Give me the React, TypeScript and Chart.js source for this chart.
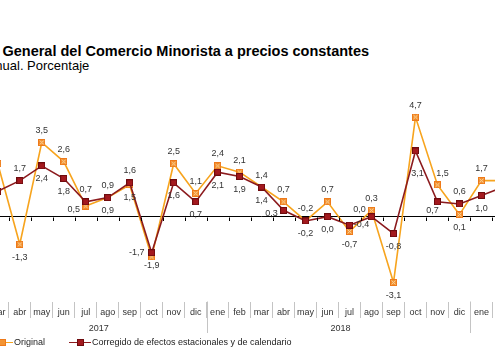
import React, { useEffect, useRef } from 'react';
import { Chart, registerables } from 'chart.js';

Chart.register(...registerables);

// ---- data (mar 2017 – mar 2019; last month is outside the cropped view) ----
const months = ['mar', 'abr', 'may', 'jun', 'jul', 'ago', 'sep', 'oct', 'nov', 'dic',
  'ene', 'feb', 'mar', 'abr', 'may', 'jun', 'jul', 'ago', 'sep', 'oct', 'nov', 'dic',
  'ene', 'feb', 'mar'];
const original = [2.5, -1.3, 3.5, 2.6, 0.5, 0.9, 1.5, -1.9, 2.5, 1.1,
  2.4, 2.1, 1.4, 0.7, -0.2, 0.7, -0.7, 0.3, -3.1, 4.7, 1.5, 0.1,
  1.7, 1.7, null];
const corrected = [1.2, 1.7, 2.4, 1.8, 0.7, 0.9, 1.6, -1.7, 1.6, 0.7,
  2.1, 1.9, 1.4, 0.3, -0.2, 0.0, -0.4, 0.0, -0.8, 3.1, 0.7, 0.6,
  1.0, 1.4, null];
const yearLabels = ['2017', '2018', '2019'];
const yearMonthCounts = [10, 12, 3];

const titleText = 'Índice General del Comercio Minorista a precios constantes';
const subtitleText = 'Tasa anual. Porcentaje';
const seriesNames = ['Original', 'Corregido de efectos estacionales y de calendario'];

// ---- label placement (style) ----
const originalLabelPos = ['l', 'b', 'a', 'a', 'lb', 'b', 'b', 'bs', 'a', 'a', 'a', 'a', 'a', 'a', 'a', 'a', 'b', 'a', 'b', 'a', 'ra', 'b', 'a', 'a', 'a'];
const correctedLabelPos = ['l', 'a', 'b', 'b', 'a', 'a', 'a', 'l', 'b', 'b', 'b', 'b', 'b', 'lb', 'b', 'b', 'r', 'la', 'b', 'bb', 'bl', 'a', 'b', 'b', 'b'];
const OFFSETS: Record<string, [number, number]> = {
  a: [0, -12], b: [0, 13], bs: [0, 9], bb: [2, 23], l: [-15, 0], lb: [-12, 3],
  la: [-12, -7], r: [12, -1], ra: [5, -11], bl: [-5, 9],
};

const FONT = '"Liberation Sans", Arial, sans-serif';
const ORANGE_LINE = '#F7A41E';
const RED_LINE = '#8C1B1E';
const TEXT = '#333333';
const SEP = '#C4C4C4';

function makeMarker(fill: string, stroke: string, cross: string | null) {
  const c = document.createElement('canvas');
  c.width = 7; c.height = 7;
  const g = c.getContext('2d')!;
  g.fillStyle = fill;
  g.fillRect(0, 0, 7, 7);
  g.strokeStyle = stroke;
  g.lineWidth = 1;
  g.strokeRect(0.5, 0.5, 6, 6);
  if (cross) {
    g.strokeStyle = cross;
    g.beginPath();
    g.moveTo(1.5, 1.5); g.lineTo(5.5, 5.5);
    g.moveTo(5.5, 1.5); g.lineTo(1.5, 5.5);
    g.stroke();
  }
  return c;
}

const fmt = (v: number) => v.toFixed(1).replace('.', ',');

const axisDecor = {
  id: 'axisDecor',
  afterDraw(chart: any) {
    const x = chart.scales.x;
    const y = chart.scales.y;
    const ctx = chart.ctx;
    const area = chart.chartArea;
    const bound = (i: number) => x.getPixelForValue(i - 0.5);
    const y0 = Math.round(y.getPixelForValue(0)) + 0.5;
    ctx.save();
    // small ticks on zero line
    ctx.strokeStyle = '#000';
    ctx.lineWidth = 1;
    for (let i = 0; i <= months.length; i++) {
      const bx = Math.round(bound(i)) + 0.5;
      ctx.beginPath();
      ctx.moveTo(bx, y0);
      ctx.lineTo(bx, y0 + 3.5);
      ctx.stroke();
    }
    // year dividers + labels
    ctx.strokeStyle = SEP;
    ctx.fillStyle = TEXT;
    ctx.font = `9px ${FONT}`;
    ctx.textAlign = 'center';
    ctx.textBaseline = 'middle';
    let start = 0;
    yearLabels.forEach((yl, k) => {
      const end = start + yearMonthCounts[k];
      const bx = Math.round(bound(end)) + 0.5;
      if (k < yearLabels.length - 1) {
        ctx.beginPath();
        ctx.moveTo(bx, area.bottom);
        ctx.lineTo(bx, area.bottom + 31.5);
        ctx.stroke();
      }
      const cx = (bound(start) + bound(end)) / 2 + 2;
      ctx.fillText(yl, cx, area.bottom + 27.5);
      start = end;
    });
    ctx.restore();
  },
};

const pointLabels = {
  id: 'pointLabels',
  afterDatasetsDraw(chart: any) {
    const ctx = chart.ctx;
    const placements = [originalLabelPos, correctedLabelPos];
    ctx.save();
    ctx.font = `9px ${FONT}`;
    ctx.fillStyle = TEXT;
    ctx.textAlign = 'center';
    ctx.textBaseline = 'middle';
    chart.data.datasets.forEach((ds: any, di: number) => {
      const meta = chart.getDatasetMeta(di);
      meta.data.forEach((pt: any, i: number) => {
        const v = ds.data[i];
        if (v === null || v === undefined) return;
        const [dx, dy] = OFFSETS[placements[di][i]];
        ctx.fillText(fmt(v), pt.x + dx, pt.y + dy);
      });
    });
    ctx.restore();
  },
};

export default function App() {
  const ref = useRef<HTMLCanvasElement | null>(null);

  useEffect(() => {
    if (!ref.current) return;
    const orangeMarker = makeMarker('#F39433', '#EE7A1A', '#FAD39C');
    const redMarker = makeMarker('#A3191E', '#6E0B0E', null);
    const chart = new Chart(ref.current, {
      type: 'line',
      data: {
        labels: months,
        datasets: [
          {
            label: seriesNames[0], data: original, borderColor: ORANGE_LINE, backgroundColor: ORANGE_LINE,
            borderWidth: 1.6, pointStyle: orangeMarker as any, pointRadius: 3.5, tension: 0, order: 1,
          },
          {
            label: seriesNames[1], data: corrected, borderColor: RED_LINE, backgroundColor: RED_LINE,
            borderWidth: 1.6, pointStyle: redMarker as any, pointRadius: 3.5, tension: 0, order: 0,
          },
        ],
      },
      options: {
        responsive: false,
        animation: false,
        layout: { padding: { left: 6.8, right: 5.2, top: 89.5, bottom: 0 } },
        plugins: { legend: { display: false }, tooltip: { enabled: false }, title: { display: false } },
        scales: {
          x: {
            type: 'category',
            offset: true,
            grid: { offset: true, drawOnChartArea: false, drawTicks: true, tickLength: 16.5, color: SEP, lineWidth: 1 },
            border: { display: false },
            ticks: { autoSkip: false, maxRotation: 0, minRotation: 0, padding: -11, font: { family: FONT, size: 9 }, color: TEXT },
            afterFit: (s: any) => { s.height = 55.5; },
          },
          y: {
            min: -4, max: 6,
            ticks: { display: false, stepSize: 1 },
            grid: {
              drawTicks: false, lineWidth: 1,
              color: (c: any) => (c.tick && c.tick.value === 0 ? '#000000' : 'rgba(0,0,0,0)'),
            },
            border: { display: false },
            afterFit: (s: any) => { s.width = 0; },
          },
        },
      },
      plugins: [axisDecor, pointLabels],
    });
    return () => chart.destroy();
  }, []);

  const legendItem = (left: number, color: string, marker: React.ReactNode, text: string) => (
    <div style={{ position: 'absolute', left, top: 336, height: 12, width: 300 }}>
      <div style={{ position: 'absolute', left: 0, top: 5.5, width: 22, height: 1.5, background: color }} />
      {marker}
      <span style={{ position: 'absolute', left: 23, top: 1.5, font: `9px ${FONT}`, lineHeight: '9px', color: '#222', whiteSpace: 'nowrap' }}>{text}</span>
    </div>
  );

  return (
    <div style={{ position: 'fixed', left: 0, top: 0, width: 495, height: 357, overflow: 'hidden', background: '#fff' }}>
      <div style={{ position: 'absolute', left: -43.5, top: 44.2, font: `bold 14.5px ${FONT}`, lineHeight: '14.5px', color: '#000', whiteSpace: 'nowrap' }}>{titleText}</div>
      <div style={{ position: 'absolute', left: -43, top: 59, font: `13px ${FONT}`, lineHeight: '13px', color: '#000', whiteSpace: 'nowrap' }}>{subtitleText}</div>
      <canvas ref={ref} width={562} height={357} style={{ position: 'absolute', left: -20, top: 0, width: 562, height: 357 }} />
      {legendItem(-9, ORANGE_LINE,
        <div style={{ position: 'absolute', left: 8, top: 3, width: 5, height: 5, background: '#F39433', border: '1px solid #EE7A1A' }} />,
        seriesNames[0])}
      {legendItem(69, RED_LINE,
        <div style={{ position: 'absolute', left: 8, top: 3, width: 5, height: 5, background: '#A3191E', border: '1px solid #6E0B0E' }} />,
        seriesNames[1])}
    </div>
  );
}
